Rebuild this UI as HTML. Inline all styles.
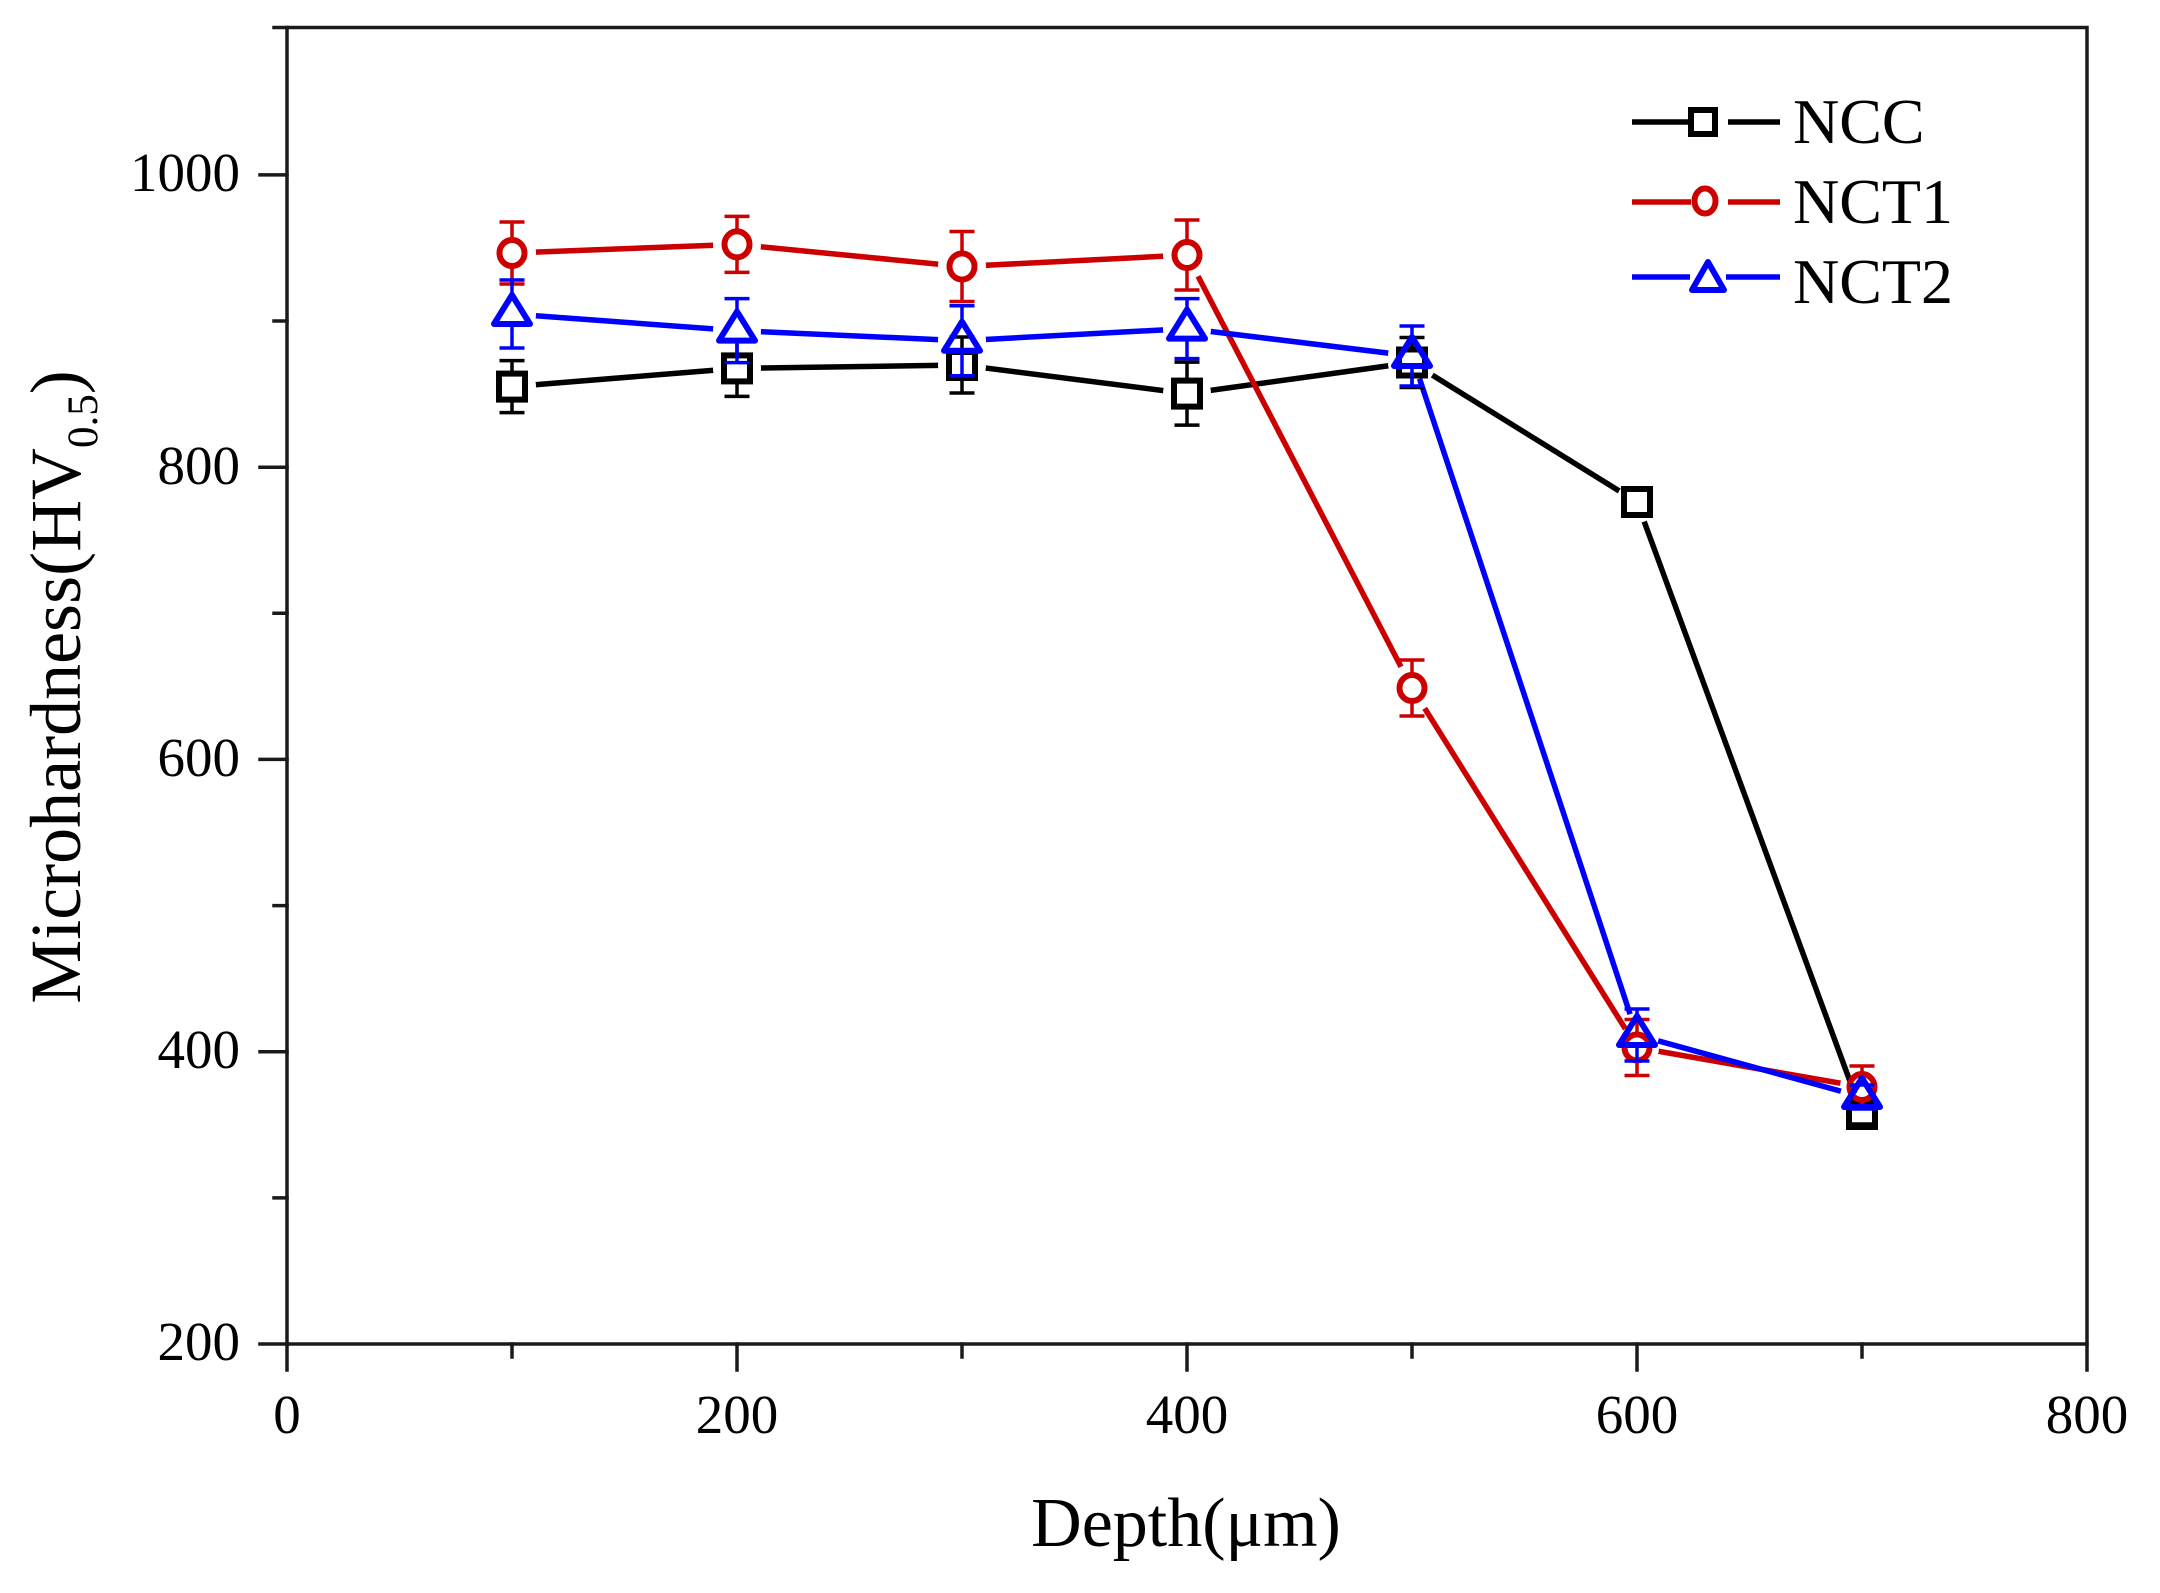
<!DOCTYPE html>
<html><head><meta charset="utf-8"><style>html,body{margin:0;padding:0;background:#fff}svg{display:block}</style></head>
<body>
<svg width="2160" height="1593" viewBox="0 0 2160 1593" xmlns="http://www.w3.org/2000/svg">
<rect width="2160" height="1593" fill="#fff"/>
<defs>
<mask id="mA" maskUnits="userSpaceOnUse" x="0" y="0" width="2160" height="1593">
<rect width="2160" height="1593" fill="#fff"/>
<g fill="#000"><circle cx="512" cy="386.6" r="24"/><circle cx="737" cy="368.4" r="24"/><circle cx="962" cy="365" r="24"/><circle cx="1187" cy="393.6" r="24"/><circle cx="1412" cy="362.5" r="24"/><circle cx="1637" cy="502" r="21"/><circle cx="1862" cy="1114" r="22"/></g>
</mask>
<mask id="mB" maskUnits="userSpaceOnUse" x="0" y="0" width="2160" height="1593">
<rect width="2160" height="1593" fill="#fff"/>
<g fill="#000"><circle cx="512" cy="253" r="24"/><circle cx="737" cy="244.4" r="24"/><circle cx="962" cy="266.5" r="24"/><circle cx="1187" cy="255" r="24"/><circle cx="1412" cy="688" r="24"/><circle cx="1637" cy="1047.5" r="22"/><circle cx="1862" cy="1087" r="22"/></g>
</mask>
<mask id="mC" maskUnits="userSpaceOnUse" x="0" y="0" width="2160" height="1593">
<rect width="2160" height="1593" fill="#fff"/>
<g fill="#000"><circle cx="512" cy="314" r="24"/><circle cx="737" cy="330.6" r="24"/><circle cx="962" cy="340.7" r="24"/><circle cx="1187" cy="328.6" r="24"/><circle cx="1412" cy="356" r="24"/><circle cx="1637" cy="1035" r="22"/><circle cx="1862" cy="1097" r="22"/></g>
</mask>
</defs>

<!-- axes frame -->
<g stroke="#1a1a1a" stroke-width="3.5" fill="none" stroke-linecap="square">
<rect x="287" y="27.5" width="1800" height="1316.5"/>
<path d="M260 1344H287M260 1051.7H287M260 759.4H287M260 467.2H287M260 174.9H287"/>
<path d="M274 1197.9H287M274 905.6H287M274 613.3H287M274 321H287M274 27.5H287"/>
<path d="M287 1344V1370M737 1344V1370M1187 1344V1370M1637 1344V1370M2087 1344V1370"/>
<path d="M512 1344V1357M962 1344V1357M1412 1344V1357M1862 1344V1357"/>
</g>

<!-- tick labels -->
<g font-family="'Liberation Serif', 'Times New Roman', serif" font-size="55" fill="#000">
<g text-anchor="end">
<text x="240" y="191">1000</text>
<text x="240" y="484">800</text>
<text x="240" y="776">600</text>
<text x="240" y="1068">400</text>
<text x="240" y="1360">200</text>
</g>
<g text-anchor="middle">
<text x="287" y="1433">0</text>
<text x="737" y="1433">200</text>
<text x="1187" y="1433">400</text>
<text x="1637" y="1433">600</text>
<text x="2087" y="1433">800</text>
</g>
</g>

<!-- axis titles -->
<text x="1186" y="1546" font-family="'Liberation Serif', 'Times New Roman', serif" font-size="70" text-anchor="middle" fill="#000">Depth(μm)</text>
<text transform="translate(80,687) rotate(-90)" font-family="'Liberation Serif', 'Times New Roman', serif" font-size="72" text-anchor="middle" fill="#000">Microhardness(HV<tspan font-size="43" dy="17">0.5</tspan><tspan dy="-17">)</tspan></text>

<!-- series lines -->
<g fill="none" stroke-width="5.5" stroke-linejoin="round">
<polyline mask="url(#mA)" stroke="#000" points="512,386.6 737,368.4 962,365 1187,393.6 1412,362.5 1637,502 1862,1114"/>
<polyline mask="url(#mB)" stroke="#cc0000" points="512,253 737,244.4 962,266.5 1187,255 1412,688 1637,1047.5 1862,1087"/>
<polyline mask="url(#mC)" stroke="#0000ff" points="512,314 737,330.6 962,340.7 1187,328.6 1412,356 1637,1035 1862,1097"/>
</g>

<!-- NCC error bars + markers -->
<g stroke="#000" stroke-width="3.5" fill="none">
<path d="M512 360.6V372.6M512 400.6V412.6M499.5 360.6H524.5M499.5 412.6H524.5
M737 340.4V354.4M737 382.4V396.4M724.5 340.4H749.5M724.5 396.4H749.5
M962 337V351M962 379V393M949.5 337H974.5M949.5 393H974.5
M1187 362.1V379.6M1187 407.6V425.1M1174.5 362.1H1199.5M1174.5 425.1H1199.5
M1412 337.5V348.5M1412 376.5V387.5M1399.5 337.5H1424.5M1399.5 387.5H1424.5
M1624.5 488H1649.5M1624.5 516H1649.5
M1849.5 1104H1874.5M1849.5 1124H1874.5"/>
</g>
<g stroke="#000" stroke-width="6" fill="none">
<rect x="499" y="373.6" width="26" height="26"/>
<rect x="724" y="355.4" width="26" height="26"/>
<rect x="949" y="352" width="26" height="26"/>
<rect x="1174" y="380.6" width="26" height="26"/>
<rect x="1399" y="349.5" width="26" height="26"/>
<rect x="1624" y="489" width="26" height="26"/>
<rect x="1849" y="1101" width="26" height="26"/>
</g>

<!-- NCT1 error bars + markers -->
<g stroke="#cc0000" stroke-width="3.5" fill="none">
<path d="M512 222V239M512 267V284M499.5 222H524.5M499.5 284H524.5
M737 216.4V230.4M737 258.4V272.4M724.5 216.4H749.5M724.5 272.4H749.5
M962 231.5V252.5M962 280.5V301.5M949.5 231.5H974.5M949.5 301.5H974.5
M1187 220V241M1187 269V290M1174.5 220H1199.5M1174.5 290H1199.5
M1412 660V674M1412 702V716M1399.5 660H1424.5M1399.5 716H1424.5
M1637 1019.5V1033.5M1637 1061.5V1075.5M1624.5 1019.5H1649.5M1624.5 1075.5H1649.5
M1862 1066V1073M1862 1101V1108M1849.5 1066H1874.5M1849.5 1108H1874.5"/>
</g>
<g stroke="#cc0000" stroke-width="6" fill="none">
<ellipse cx="512" cy="253" rx="12.5" ry="13"/>
<ellipse cx="737" cy="244.4" rx="12.5" ry="13"/>
<ellipse cx="962" cy="266.5" rx="12.5" ry="13"/>
<ellipse cx="1187" cy="255" rx="12.5" ry="13"/>
<ellipse cx="1412" cy="688" rx="12.5" ry="13"/>
<ellipse cx="1637" cy="1047.5" rx="12.5" ry="13"/>
<ellipse cx="1862" cy="1087" rx="12.5" ry="13"/>
</g>

<!-- NCT2 error bars + markers -->
<g stroke="#0000ff" stroke-width="3.5" fill="none">
<path d="M512 280V294M512 326V348M499.5 280H524.5M499.5 348H524.5
M737 298.6V310.6M737 342.6V362.6M724.5 298.6H749.5M724.5 362.6H749.5
M962 305.7V320.7M962 352.7V375.7M949.5 305.7H974.5M949.5 375.7H974.5
M1187 298.6V308.6M1187 340.6V358.6M1174.5 298.6H1199.5M1174.5 358.6H1199.5
M1412 326V336M1412 368V386M1399.5 326H1424.5M1399.5 386H1424.5
M1637 1009V1015M1637 1047V1061M1624.5 1009H1649.5M1624.5 1061H1649.5
M1849.5 1085H1874.5M1849.5 1109H1874.5"/>
</g>
<g stroke="#0000ff" stroke-width="6" fill="none" stroke-linejoin="round">
<polygon points="512,295 494,324 530,324"/>
<polygon points="737,311.6 719,340.6 755,340.6"/>
<polygon points="962,321.7 944,350.7 980,350.7"/>
<polygon points="1187,309.6 1169,338.6 1205,338.6"/>
<polygon points="1412,337 1394,366 1430,366"/>
<polygon points="1637,1016 1619,1045 1655,1045"/>
<polygon points="1862,1078 1844,1107 1880,1107"/>
</g>

<!-- legend -->
<g fill="none" stroke-width="5.5">
<path stroke="#000" d="M1632 122H1689M1728 122H1780"/>
<rect stroke="#000" stroke-width="6" x="1691" y="110" width="24" height="24"/>
<path stroke="#cc0000" d="M1632 202H1691M1728 202H1780"/>
<ellipse stroke="#cc0000" stroke-width="6" cx="1705" cy="201" rx="10.5" ry="12.5"/>
<path stroke="#0000ff" d="M1632 277H1690M1726 277H1780"/>
<polygon stroke="#0000ff" stroke-width="6" stroke-linejoin="round" points="1708,262 1692,290 1724,290"/>
</g>
<g font-family="'Liberation Serif', 'Times New Roman', serif" font-size="64" fill="#000">
<text x="1793" y="143">NCC</text>
<text x="1793" y="223">NCT1</text>
<text x="1793" y="303">NCT2</text>
</g>
</svg>
</body></html>
